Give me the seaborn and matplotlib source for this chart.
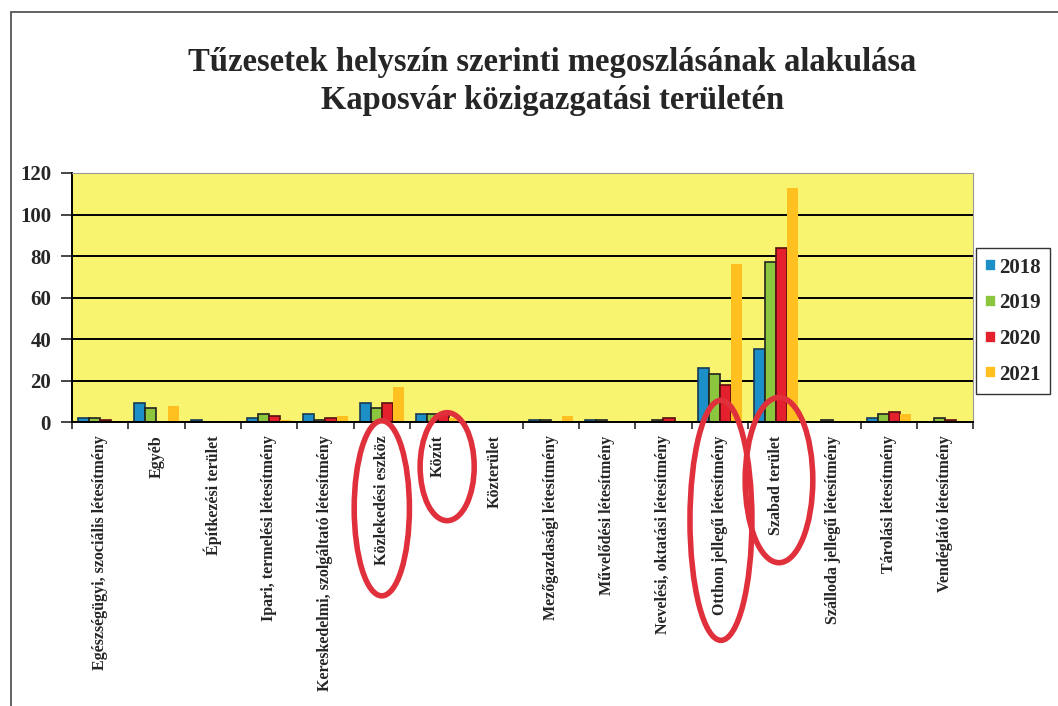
import pandas as pd
import matplotlib
matplotlib.use("Agg")
import matplotlib.pyplot as plt
import matplotlib.transforms as mtransforms
from matplotlib.patches import Ellipse, Rectangle
import seaborn as sns

# --- data ---
categories = [
    "Egészségügyi, szociális létesítmény",
    "Egyéb",
    "Építkezési terület",
    "Ipari, termelési létesítmény",
    "Kereskedelmi, szolgáltató létesítmény",
    "Közlekedési eszköz",
    "Közút",
    "Közterület",
    "Mezőgazdasági létesítmény",
    "Művelődési létesítmény",
    "Nevelési, oktatási létesítmény",
    "Otthon jellegű létesítmény",
    "Szabad terület",
    "Szálloda jellegű létesítmény",
    "Tárolási létesítmény",
    "Vendéglátó létesítmény",
]
years = ["2018", "2019", "2020", "2021"]
v2018 = [2, 9, 1, 2, 4, 9, 4, 0, 1, 1, 0, 26, 35, 0, 2, 0]
v2019 = [2, 7, 0, 4, 1, 7, 4, 0, 1, 1, 1, 23, 77, 1, 4, 2]
v2020 = [1, 0, 0, 3, 2, 9, 4, 0, 0, 0, 2, 18, 84, 0, 5, 1]
v2021 = [0, 8, 0, 1, 3, 17, 2, 0, 3, 0, 0, 76, 113, 0, 4, 0]
highlighted = ["Közlekedési eszköz", "Közút", "Otthon jellegű létesítmény", "Szabad terület"]

colors = ["#1c8fc6", "#8cc63f", "#e3202c", "#ffc020"]
edges = ["#1a3a55", "#222222", "#5a1010", "none"]

df = pd.DataFrame({
    "kategoria": categories * 4,
    "ev": [y for y in years for _ in categories],
    "db": v2018 + v2019 + v2020 + v2021,
})

sns.set_style("white")
plt.rcParams["font.family"] = ["Liberation Serif", "DejaVu Serif"]
plt.rcParams["font.weight"] = "bold"

fig = plt.figure(figsize=(10.58, 7.06), dpi=100)
ax = fig.add_axes([0.068, 0.402, 0.852, 0.353])

sns.barplot(data=df, x="kategoria", y="db", hue="ev", order=categories,
            hue_order=years, palette=colors, width=0.79, saturation=1,
            linewidth=1.2, ax=ax)

for cont, ec in zip(ax.containers, edges):
    for bar in cont:
        bar.set_edgecolor(ec)
        if ec == "none":
            bar.set_linewidth(0)

ax.set_facecolor("#f8f470")
ax.set_ylim(0, 120)
ax.set_xlim(-0.5, len(categories) - 0.5)
ax.set_yticks(range(0, 121, 20))
ax.yaxis.grid(True, color="black", linewidth=1.4)
ax.set_axisbelow(True)
for side in ["top", "right"]:
    ax.spines[side].set_color("#999999")
    ax.spines[side].set_linewidth(0.8)
for side in ["left", "bottom"]:
    ax.spines[side].set_color("black")
    ax.spines[side].set_linewidth(1.4)

ax.set_xlabel("")
ax.set_ylabel("")
ax.tick_params(axis="y", left=True, length=8, width=1.2, labelsize=15, pad=7)
ax.set_xticks(range(len(categories)))
ax.set_xticklabels(categories, rotation=90, fontsize=11.5, fontweight="bold", va="top")
ax.tick_params(axis="x", bottom=False, pad=6)
ax.set_xticks([i - 0.5 for i in range(len(categories) + 1)], minor=True)
ax.tick_params(axis="x", which="minor", bottom=True, length=5, width=1.2)

leg = ax.legend(loc="center left", bbox_to_anchor=(1.003, 0.405), frameon=True,
                fancybox=False, edgecolor="black", fontsize=15, handlelength=0.5,
                handleheight=0.5, handletextpad=0.15, labelspacing=0.75,
                borderpad=0.45, borderaxespad=0.0, title=None)
leg.get_frame().set_linewidth(1.0)

fig.text(0.522, 0.884, "Tűzesetek helyszín szerinti megoszlásának alakulása\n"
         "Kaposvár közigazgatási területén", ha="center", va="center",
         fontsize=23.5, fontweight="bold", linespacing=1.3)

# hand-drawn red rings around the highlighted labels
trans = mtransforms.blended_transform_factory(ax.transData, fig.transFigure)
rings = {
    "Közlekedési eszköz": (0.0, 0.28, 0.98, 0.248),
    "Közút": (0.16, 0.339, 0.96, 0.153),
    "Otthon jellegű létesítmény": (0.02, 0.263, 1.1, 0.34),
    "Szabad terület": (0.05, 0.32, 1.2, 0.234),
}
for name in highlighted:
    dx, y_c, w, h = rings[name]
    x_c = categories.index(name) + dx
    e = Ellipse((x_c, y_c), w, h, transform=trans, fill=False,
                edgecolor="#e0303c", linewidth=4, clip_on=False)
    fig.add_artist(e)

fig.add_artist(Rectangle((0.0104, -0.01), 1.0, 0.993, transform=fig.transFigure,
                         fill=False, edgecolor="#555555", linewidth=1.3))

fig.savefig("out.png", dpi=100, facecolor="white")
